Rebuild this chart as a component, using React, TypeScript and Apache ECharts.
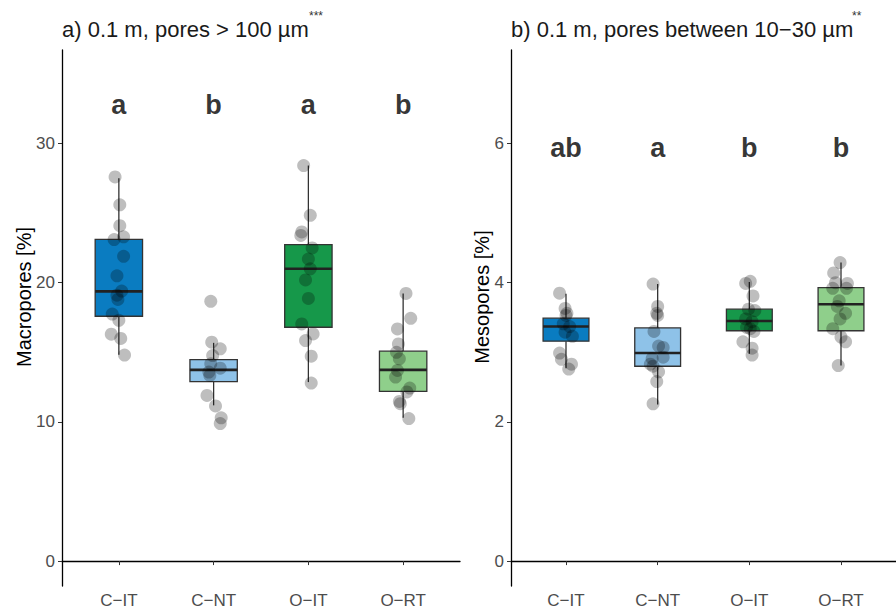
import React, { useEffect, useRef } from "react";
import * as echarts from "echarts";

const categories = ["C\u2212IT", "C\u2212NT", "O\u2212IT", "O\u2212RT"];
const boxColors = ["#0a7cc1", "#8ec2e8", "#16984a", "#8fcf8b"];

// box stats: [whiskerLow, q1, median, q3, whiskerHigh]
const macroStats = [
  [14.82, 17.59, 19.38, 23.12, 27.5],
  [11.19, 12.9, 13.74, 14.48, 15.68],
  [12.86, 16.8, 21.0, 22.74, 28.42],
  [10.29, 12.19, 13.74, 15.08, 19.23],
];
const mesoStats = [
  [2.77, 3.16, 3.37, 3.49, 3.84],
  [2.25, 2.8, 2.99, 3.35, 3.98],
  [2.98, 3.31, 3.45, 3.62, 4.01],
  [2.81, 3.31, 3.69, 3.93, 4.29],
];

// points: [jitter offset (category units), value]
const macroCIT = [[-0.04, 27.6], [0.01, 25.6], [0.01, 24.1], [-0.05, 23.1], [0.05, 23.3], [0.05, 21.9], [-0.02, 20.5], [0.03, 19.4], [-0.02, 19.1], [-0.01, 18.8], [-0.07, 17.75], [0.0, 17.3], [-0.08, 16.3], [0.02, 16.0], [0.06, 14.8]];
const macroCNT = [[-0.03, 18.66], [-0.02, 15.73], [0.07, 15.25], [-0.01, 14.77], [-0.03, 14.17], [0.07, 13.86], [-0.05, 13.58], [-0.04, 13.34], [-0.07, 11.9], [0.02, 11.15], [0.08, 10.29], [0.07, 9.88]];
const macroOIT = [[-0.05, 28.42], [0.02, 24.84], [-0.07, 23.65], [-0.08, 23.4], [0.04, 22.5], [0.0, 21.7], [0.02, 21.0], [-0.03, 20.2], [0.0, 18.87], [-0.07, 17.04], [0.05, 16.32], [-0.03, 15.84], [0.03, 14.72], [0.03, 12.79]];
const macroORT = [[0.03, 19.23], [0.08, 17.44], [-0.06, 16.68], [-0.05, 15.6], [-0.07, 15.0], [-0.04, 14.53], [-0.06, 13.7], [-0.08, 13.22], [0.07, 12.43], [0.04, 12.15], [-0.04, 11.47], [-0.03, 11.31], [0.06, 10.24]];

const mesoCIT = [[-0.07, 3.85], [-0.01, 3.63], [0.01, 3.56], [0.0, 3.53], [-0.03, 3.41], [0.04, 3.37], [-0.01, 3.29], [0.07, 3.23], [-0.07, 2.99], [-0.05, 2.9], [0.06, 2.83], [0.03, 2.76]];
const mesoCNT = [[-0.05, 3.98], [0.0, 3.66], [-0.01, 3.56], [0.0, 3.53], [-0.04, 3.3], [0.01, 3.09], [0.06, 3.07], [0.06, 2.93], [-0.06, 2.91], [-0.08, 2.83], [-0.05, 2.8], [0.01, 2.72], [-0.01, 2.58], [-0.05, 2.26]];
const mesoOIT = [[-0.04, 3.99], [0.01, 4.02], [0.04, 3.81], [-0.01, 3.62], [0.06, 3.6], [-0.04, 3.48], [0.03, 3.44], [-0.03, 3.36], [0.01, 3.34], [0.05, 3.3], [-0.07, 3.15], [0.03, 3.06], [0.03, 2.96]];
const mesoORT = [[-0.01, 4.29], [-0.08, 4.14], [-0.06, 4.0], [0.07, 3.99], [-0.09, 3.92], [0.06, 3.92], [-0.02, 3.74], [-0.04, 3.66], [0.05, 3.56], [-0.01, 3.48], [-0.09, 3.34], [0.0, 3.22], [0.05, 3.15], [-0.03, 2.81]];

const macroLetters = ["a", "b", "a", "b"];
const mesoLetters = ["ab", "a", "b", "b"];
const macroLetterY = 32.8;
const mesoLetterY = 5.94;

const macroTicks = [0, 10, 20, 30];
const mesoTicks = [0, 2, 4, 6];

const FONT = "'Liberation Sans', Arial, sans-serif";

function flatten(groups: number[][][]) {
  const out: number[][] = [];
  groups.forEach((g, i) => g.forEach((p) => out.push([i + 1 + p[0], p[1]])));
  return out;
}

function boxSeries(stats: number[][], idx: number) {
  return {
    type: "custom",
    xAxisIndex: idx,
    yAxisIndex: idx,
    data: stats.map((s, i) => [i + 1, ...s]),
    encode: { x: 0, y: [1, 2, 3, 4, 5] },
    z: 2,
    renderItem: (params: any, api: any) => {
      const x = api.value(0);
      const wl = api.value(1), q1 = api.value(2), md = api.value(3), q3 = api.value(4), wh = api.value(5);
      const hw = 0.25;
      const pTL = api.coord([x - hw, q3]);
      const pBR = api.coord([x + hw, q1]);
      const pMidL = api.coord([x - hw, md]);
      const pMidR = api.coord([x + hw, md]);
      const pWH = api.coord([x, wh]);
      const pWL = api.coord([x, wl]);
      const cx = api.coord([x, q3])[0];
      const stroke = "#333333";
      return {
        type: "group",
        children: [
          { type: "line", shape: { x1: cx, y1: pWH[1], x2: cx, y2: pTL[1] }, style: { stroke, lineWidth: 1.3 } },
          { type: "line", shape: { x1: cx, y1: pBR[1], x2: cx, y2: pWL[1] }, style: { stroke, lineWidth: 1.3 } },
          {
            type: "rect",
            shape: { x: pTL[0], y: pTL[1], width: pBR[0] - pTL[0], height: pBR[1] - pTL[1] },
            style: { fill: boxColors[params.dataIndex], stroke, lineWidth: 1.3 },
          },
          { type: "line", shape: { x1: pMidL[0], y1: pMidL[1], x2: pMidR[0], y2: pMidR[1] }, style: { stroke: "#222222", lineWidth: 2.6 } },
        ],
      };
    },
  };
}

function pointSeries(groups: number[][][], idx: number) {
  return {
    type: "scatter",
    xAxisIndex: idx,
    yAxisIndex: idx,
    data: flatten(groups),
    symbolSize: 13,
    itemStyle: { color: "rgba(0,0,0,0.32)" },
    z: 5,
  };
}

function letterSeries(letters: string[], y: number, idx: number) {
  return {
    type: "scatter",
    xAxisIndex: idx,
    yAxisIndex: idx,
    data: letters.map((l, i) => ({ value: [i + 1, y], name: l })),
    symbolSize: 0,
    z: 6,
    label: {
      show: true,
      position: "inside",
      formatter: (p: any) => p.name,
      fontSize: 27,
      fontWeight: "bold",
      color: "#000",
      fontFamily: FONT,
    },
  };
}

function xAxis(idx: number) {
  return {
    type: "value",
    gridIndex: idx,
    min: 0.4,
    max: 4.6,
    splitLine: { show: false },
    axisLine: { show: true, lineStyle: { color: "#000", width: 1.3 } },
    axisTick: { show: true, length: 4, lineStyle: { color: "#333" }, customValues: [1, 2, 3, 4] },
    axisLabel: {
      customValues: [1, 2, 3, 4],
      formatter: (v: number) => categories[Math.round(v) - 1] || "",
      color: "#4d4d4d",
      fontSize: 17,
      fontFamily: FONT,
      margin: 6,
    },
  };
}

function yAxis(idx: number, min: number, max: number, ticks: number[]) {
  return {
    type: "value",
    gridIndex: idx,
    min,
    max,
    splitLine: { show: false },
    axisLine: { show: true, lineStyle: { color: "#000", width: 1.3 } },
    axisTick: { show: true, length: 4, lineStyle: { color: "#333" }, customValues: ticks },
    axisLabel: { customValues: ticks, color: "#4d4d4d", fontSize: 17, fontFamily: FONT, margin: 7 },
  };
}

export default function App() {
  const ref = useRef<HTMLDivElement>(null);
  useEffect(() => {
    document.body.style.margin = "0";
    const chart = echarts.init(ref.current!, null, { renderer: "svg" });
    chart.setOption({
      animation: false,
      backgroundColor: "#ffffff",
      grid: [
        { left: 62, top: 50, width: 398, height: 538 },
        { left: 511, top: 50, width: 398, height: 538 },
      ],
      xAxis: [xAxis(0), xAxis(1)],
      yAxis: [yAxis(0, -1.79, 36.72, macroTicks), yAxis(1, -0.358, 7.344, mesoTicks)],
      series: [
        boxSeries(macroStats, 0),
        pointSeries([macroCIT, macroCNT, macroOIT, macroORT], 0),
        letterSeries(macroLetters, macroLetterY, 0),
        boxSeries(mesoStats, 1),
        pointSeries([mesoCIT, mesoCNT, mesoOIT, mesoORT], 1),
        letterSeries(mesoLetters, mesoLetterY, 1),
      ],
      graphic: [
        { type: "text", x: 62, y: 29, style: { text: "a) 0.1 m, pores > 100 \u00b5m", fontSize: 22, fontFamily: FONT, fill: "#1a1a1a", verticalAlign: "middle" } },
        { type: "text", x: 309, y: 16, style: { text: "***", fontSize: 12, fontFamily: FONT, fill: "#333", verticalAlign: "middle" } },
        { type: "text", x: 511, y: 29, style: { text: "b) 0.1 m, pores between 10\u221230 \u00b5m", fontSize: 22, fontFamily: FONT, fill: "#1a1a1a", verticalAlign: "middle" } },
        { type: "text", x: 852, y: 16, style: { text: "**", fontSize: 12, fontFamily: FONT, fill: "#333", verticalAlign: "middle" } },
        { type: "text", x: 24, y: 297, rotation: Math.PI / 2, style: { text: "Macropores [%]", fontSize: 20, fontFamily: FONT, fill: "#000", align: "center", verticalAlign: "middle" } },
        { type: "text", x: 482, y: 297, rotation: Math.PI / 2, style: { text: "Mesopores [%]", fontSize: 20, fontFamily: FONT, fill: "#000", align: "center", verticalAlign: "middle" } },
      ],
    });
    return () => chart.dispose();
  }, []);
  return <div ref={ref} style={{ width: 896, height: 609 }} />;
}
